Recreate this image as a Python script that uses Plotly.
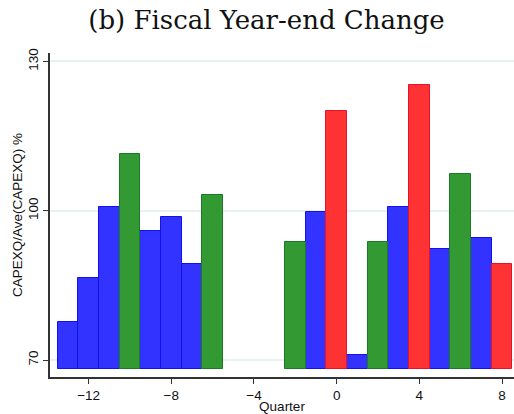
import plotly.graph_objects as go

# Quarters relative to the fiscal year-end change (quarters -5..-3 have no data)
quarter = [-13, -12, -11, -10, -9, -8, -7, -6, -2, -1, 0, 1, 2, 3, 4, 5, 6, 7, 8]
capex_ratio = [77.7, 86.5, 100.7, 111.4, 96.0, 98.7, 89.4, 103.2,
               93.8, 99.7, 120.1, 71.0, 93.8, 100.7, 125.2, 92.3, 107.4, 94.6, 89.4]
# old = quarter of the old fiscal year-end, new = quarter of the new fiscal year-end
quarter_type = ["other", "other", "other", "old", "other", "other", "other", "old",
                "old", "other", "new", "other", "old", "other", "new", "other", "old", "other", "new"]

y_ticks = [70, 100, 130]
x_ticks = [-12, -8, -4, 0, 4, 8]

bar_base = 68.3
styles = {
    "other": ("#3333ff", "#1010f0"),
    "old": ("#339933", "#1b7a26"),
    "new": ("#ff3333", "#e8102a"),
}

fig = go.Figure()
for kind, (fill, edge) in styles.items():
    xs = [q for q, t in zip(quarter, quarter_type) if t == kind]
    vs = [v for v, t in zip(capex_ratio, quarter_type) if t == kind]
    fig.add_trace(go.Bar(
        x=xs,
        y=[v - bar_base for v in vs],
        base=bar_base,
        width=1.0,
        marker=dict(color=fill, line=dict(color=edge, width=1)),
        showlegend=False,
        customdata=vs,
        hovertemplate="Quarter %{x}: %{customdata}<extra></extra>",
    ))

axis_font = dict(family="Liberation Sans, Arial, sans-serif", size=13.5, color="#111111")

fig.update_layout(
    width=514,
    height=414,
    margin=dict(l=50, r=0, t=53, b=37),
    paper_bgcolor="white",
    plot_bgcolor="white",
    bargap=0,
    title=dict(
        text="(b) Fiscal Year-end Change",
        font=dict(family="DejaVu Serif, serif", size=26, color="#111111"),
        x=266.5 / 514,
        xanchor="center",
        xref="container",
        y=1 - 20 / 414,
        yanchor="middle",
        yref="container",
    ),
    xaxis=dict(
        range=[-13.87, 8.58],
        tickvals=x_ticks,
        ticks="outside",
        ticklen=5,
        tickcolor="#333333",
        showgrid=False,
        zeroline=False,
        showline=True,
        linecolor="#333333",
        linewidth=1.5,
        tickfont=axis_font,
        title=dict(text="Quarter", font=axis_font, standoff=0),
    ),
    yaxis=dict(
        range=[66.6, 131.7],
        tickvals=y_ticks,
        tickangle=-90,
        ticks="outside",
        ticklen=5,
        tickcolor="#333333",
        showgrid=True,
        gridcolor="#eaf1f2",
        gridwidth=1.5,
        zeroline=False,
        showline=True,
        linecolor="#333333",
        linewidth=1.5,
        tickfont=axis_font,
        title=dict(text="CAPEXQ/Ave(CAPEXQ) %", font=axis_font, standoff=0),
    ),
)

fig.write_html("out.html")
